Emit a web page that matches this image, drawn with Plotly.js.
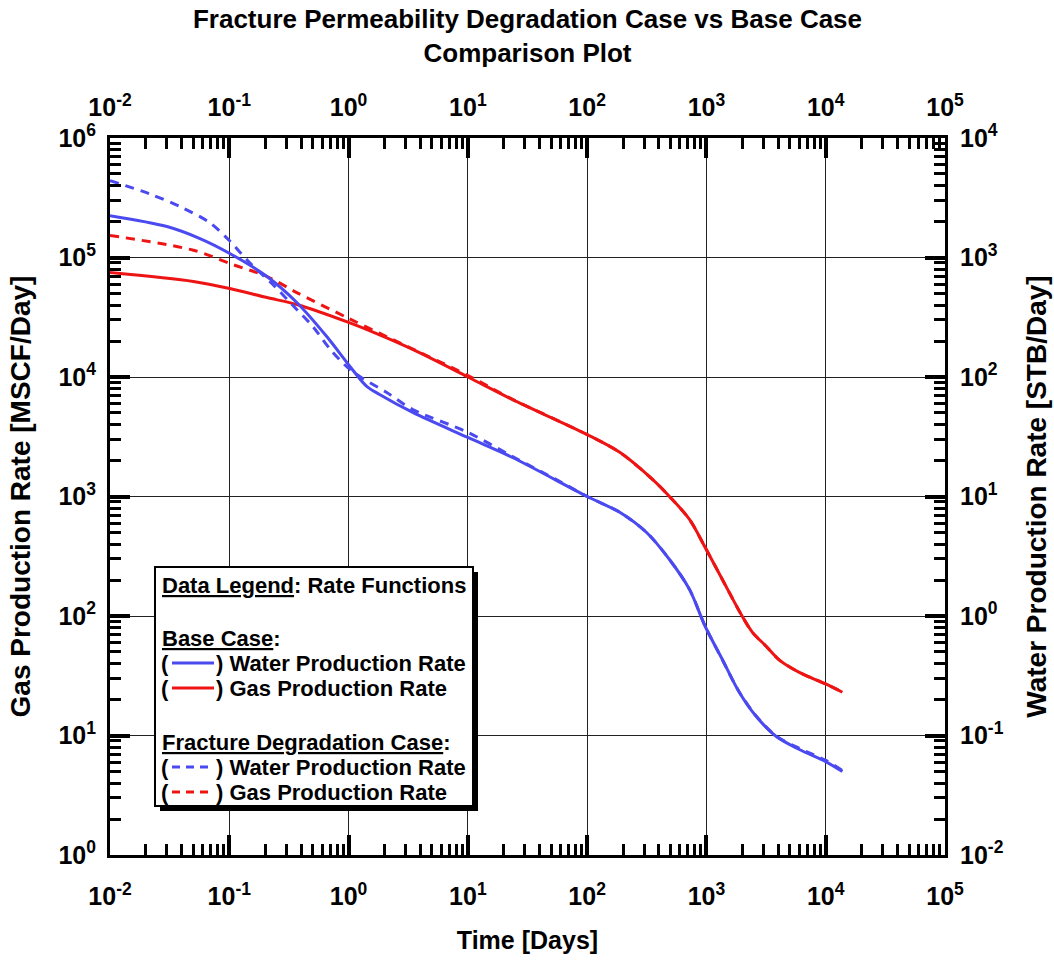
<!DOCTYPE html>
<html>
<head>
<meta charset="utf-8">
<script src="https://cdn.plot.ly/plotly-3.0.1.min.js"></script>
<style>
html,body{margin:0;padding:0;background:#fff;}
#chart{width:1054px;height:960px;}
</style>
</head>
<body>
<div id="chart"></div>
<script>
// ---- Data ----
// Base case, gas production rate [MSCF/Day]
const gasBaseTime = [0.01, 0.05, 0.101, 0.207, 0.368, 1.0, 1.82, 3.45, 10, 23.7, 100, 189, 353, 490, 721, 977, 1360, 2000, 2430, 3180, 4070, 6010, 10000, 13800];
const gasBaseRate = [74800, 63000, 55000, 46200, 40400, 28600, 22500, 17000, 10000, 6460, 3300, 2330, 1390, 1000, 643, 374, 202, 99, 73, 55.6, 43, 33.7, 27, 23];

// Fracture degradation case, gas production rate [MSCF/Day]
const gasDegrTime = [0.01, 0.05, 0.107, 0.207, 0.368, 0.966, 2.34, 10, 23.7, 100, 189, 353, 490, 721, 977, 1360, 2000, 2430, 3180, 4070, 6010, 10000, 13800];
const gasDegrRate = [152800, 115000, 87300, 69300, 50900, 31500, 20600, 10300, 6500, 3300, 2330, 1390, 1000, 643, 374, 202, 99, 73, 55.6, 43, 33.7, 27, 23];

// Base case, water production rate [STB/Day]
const waterBaseTime = [0.01, 0.030, 0.0568, 0.101, 0.207, 0.368, 0.656, 1.0, 1.42, 1.82, 3.45, 10, 23.7, 100, 189, 315, 490, 721, 977, 1360, 1890, 2620, 3850, 6010, 10000, 13800];
const waterBaseRate = [2240, 1816, 1440, 1080, 693, 420, 218, 127, 83.4, 71.4, 50.5, 31.2, 21.2, 10.0, 7.35, 5.0, 2.97, 1.67, 0.817, 0.433, 0.229, 0.144, 0.098, 0.0764, 0.0605, 0.0499];

// Fracture degradation case, water production rate [STB/Day]
const waterDegrTime = [0.01, 0.0216, 0.0408, 0.0688, 0.099, 0.149, 0.232, 0.368, 0.501, 0.697, 0.966, 1.24, 2.09, 3.45, 10, 23.7, 58.7, 100, 189, 315, 490, 721, 977, 1360, 1890, 2620, 3850, 6010, 10000, 13800];
const waterDegrRate = [4400, 3400, 2600, 1950, 1400, 900, 594, 367, 265, 172, 122, 101, 74.1, 53.5, 34.4, 21.6, 13.4, 10.0, 7.35, 5.0, 2.97, 1.67, 0.82, 0.43, 0.23, 0.145, 0.099, 0.078, 0.062, 0.051];

// Tick labels
const xTickVals = [0.01, 0.1, 1, 10, 100, 1000, 10000, 100000];
const xTickText = ['10<sup>-2</sup>', '10<sup>-1</sup>', '10<sup>0</sup>', '10<sup>1</sup>', '10<sup>2</sup>', '10<sup>3</sup>', '10<sup>4</sup>', '10<sup>5</sup>'];
const gasTickVals = [1, 10, 100, 1000, 10000, 100000, 1000000];
const gasTickText = ['10<sup>0</sup>', '10<sup>1</sup>', '10<sup>2</sup>', '10<sup>3</sup>', '10<sup>4</sup>', '10<sup>5</sup>', '10<sup>6</sup>'];
const waterTickVals = [0.01, 0.1, 1, 10, 100, 1000, 10000];
const waterTickText = ['10<sup>-2</sup>', '10<sup>-1</sup>', '10<sup>0</sup>', '10<sup>1</sup>', '10<sup>2</sup>', '10<sup>3</sup>', '10<sup>4</sup>'];

// Legend texts
const legendHeader = '<u>Data Legend</u>: Rate Functions';
const legendGroup1 = '<u>Base Case</u>:';
const legendGroup2 = '<u>Fracture Degradation Case</u>:';
const legendWater = ') Water Production Rate';
const legendGas = ') Gas Production Rate';

// ---- Styling ----
const FONT = 'Liberation Sans, Arial, sans-serif';
const BLUE = '#4a4af0';
const RED = '#ee1414';
const W = 1054, H = 960;
const M = {l: 110, r: 109, t: 138, b: 105};
const PW = W - M.l - M.r, PH = H - M.t - M.b;
const px = x => (x - M.l) / PW;
const py = y => (H - M.b - y) / PH;

const SM = 0.9;
const traces = [
  {x: gasBaseTime, y: gasBaseRate, xaxis: 'x', yaxis: 'y', mode: 'lines', name: 'Gas Production Rate (Base)', line: {color: RED, width: 3, shape: 'spline', smoothing: SM}, showlegend: false},
  {x: gasDegrTime, y: gasDegrRate, xaxis: 'x', yaxis: 'y', mode: 'lines', name: 'Gas Production Rate (Degradation)', line: {color: RED, width: 3, dash: '9px,7px', shape: 'spline', smoothing: SM}, showlegend: false},
  {x: waterBaseTime, y: waterBaseRate, xaxis: 'x2', yaxis: 'y2', mode: 'lines', name: 'Water Production Rate (Base)', line: {color: BLUE, width: 3, shape: 'spline', smoothing: SM}, showlegend: false},
  {x: waterDegrTime, y: waterDegrRate, xaxis: 'x2', yaxis: 'y2', mode: 'lines', name: 'Water Production Rate (Degradation)', line: {color: BLUE, width: 3, dash: '9px,7px', shape: 'spline', smoothing: SM}, showlegend: false}
];

const tickFont = {family: FONT, size: 25, color: '#000', weight: 'bold'};
const xTitleFont = {family: FONT, size: 25, color: '#000', weight: 'bold'};
const yTitleFont = {family: FONT, size: 28, color: '#000', weight: 'bold'};
const legendFont = {family: FONT, size: 22, color: '#000', weight: 'bold'};
const minorTicks = {ticks: 'inside', ticklen: 11, tickwidth: 3, tickcolor: '#000', dtick: 'D1', showgrid: false};

const baseAxis = {
  type: 'log', showline: true, linecolor: '#000', linewidth: 3,
  ticks: 'inside', ticklen: 20, tickwidth: 4, tickcolor: '#000',
  tickmode: 'array', tickfont: tickFont, zeroline: false,
  minor: minorTicks, fixedrange: true
};

// Legend box shapes and entries
const legL = 155, legR = 473, legT = 567, legB = 806;
const shapes = [
  {type: 'rect', xref: 'paper', yref: 'paper', x0: px(legL + 5), x1: px(legR + 5), y0: py(legB + 5), y1: py(legT + 5), fillcolor: '#000', line: {width: 0}, layer: 'above'},
  {type: 'rect', xref: 'paper', yref: 'paper', x0: px(legL), x1: px(legR), y0: py(legB), y1: py(legT), fillcolor: '#fff', line: {color: '#000', width: 2}, layer: 'above'}
];
const legendRows = [
  {y: 663, color: BLUE, dash: 'solid', label: legendWater},
  {y: 688, color: RED, dash: 'solid', label: legendGas},
  {y: 767, color: BLUE, dash: '8px,6px', label: legendWater},
  {y: 792, color: RED, dash: '8px,6px', label: legendGas}
];
const annBase = {xref: 'paper', yref: 'paper', xanchor: 'left', yanchor: 'middle', showarrow: false, font: legendFont};
const annotations = [
  {text: legendHeader, x: px(160), y: py(585)},
  {text: legendGroup1, x: px(160), y: py(638)},
  {text: legendGroup2, x: px(160), y: py(742)}
].map(a => Object.assign({}, annBase, a));

legendRows.forEach(r => {
  shapes.push({type: 'line', xref: 'paper', yref: 'paper', x0: px(172), x1: px(214), y0: py(r.y), y1: py(r.y), line: {color: r.color, width: 3, dash: r.dash}, layer: 'above'});
  annotations.push(Object.assign({}, annBase, {text: '(', x: px(159), y: py(r.y)}));
  annotations.push(Object.assign({}, annBase, {text: r.label, x: px(214), y: py(r.y)}));
});

const layout = {
  width: W, height: H,
  margin: M,
  paper_bgcolor: '#fff', plot_bgcolor: '#fff',
  showlegend: false,
  title: {
    text: 'Fracture Permeability Degradation Case vs Base Case<br>Comparison Plot',
    font: {family: FONT, size: 26, color: '#000', weight: 'bold'},
    x: 0.5, xref: 'paper', xanchor: 'center',
    y: 1 - 28 / H, yref: 'container', yanchor: 'top'
  },
  xaxis: Object.assign({}, baseAxis, {
    range: [-2, 5], side: 'bottom', anchor: 'y',
    tickvals: xTickVals, ticktext: xTickText,
    showgrid: true, gridcolor: '#222', gridwidth: 1,
    ticklabelstandoff: 17,
    title: {text: 'Time [Days]', font: xTitleFont, standoff: 23}
  }),
  xaxis2: Object.assign({}, baseAxis, {
    range: [-2, 5], side: 'top', overlaying: 'x', anchor: 'y2',
    tickvals: xTickVals, ticktext: xTickText,
    showgrid: false, ticklabelstandoff: 9
  }),
  yaxis: Object.assign({}, baseAxis, {
    range: [0, 6], side: 'left', anchor: 'x',
    tickvals: gasTickVals, ticktext: gasTickText,
    showgrid: true, gridcolor: '#222', gridwidth: 1,
    ticklabelstandoff: 6,
    title: {text: 'Gas Production Rate [MSCF/Day]', font: yTitleFont, standoff: 20}
  }),
  yaxis2: Object.assign({}, baseAxis, {
    range: [-2, 4], side: 'right', overlaying: 'y', anchor: 'x2',
    tickvals: waterTickVals, ticktext: waterTickText,
    showgrid: false, ticklabelstandoff: 7,
    title: {text: 'Water Production Rate [STB/Day]', font: yTitleFont, standoff: 24}
  }),
  shapes: shapes,
  annotations: annotations
};

Plotly.newPlot('chart', traces, layout, {staticPlot: true, displayModeBar: false});
</script>
</body>
</html>
